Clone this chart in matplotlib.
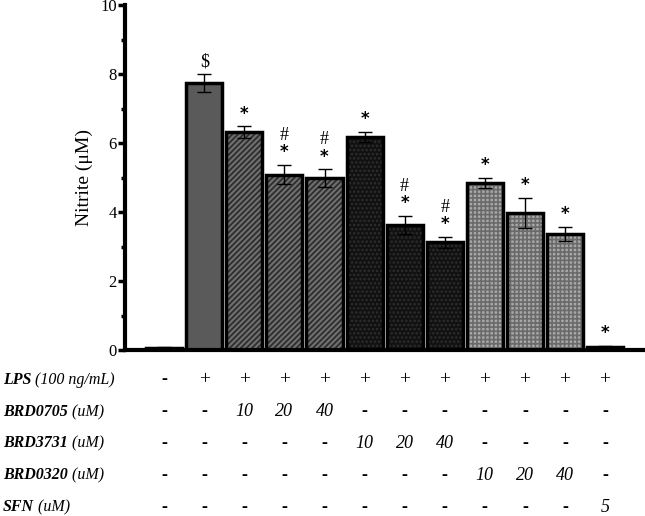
import matplotlib
matplotlib.use("Agg")
import matplotlib.pyplot as plt
import numpy as np

plt.rcParams['font.family'] = ['Liberation Serif', 'DejaVu Serif']
plt.rcParams['hatch.linewidth'] = 1.2

# ---- data ----
values = [0.07, 7.73, 6.31, 5.08, 4.98, 6.18, 3.63, 3.12, 4.84, 3.98, 3.37, 0.10]
errors = [0.02, 0.26, 0.17, 0.28, 0.26, 0.15, 0.26, 0.16, 0.15, 0.43, 0.20, 0.03]
marks = ['', '$', '*', '#*', '#*', '*', '#*', '#*', '*', '*', '*', '*']
row_labels_bold = ['LPS', 'BRD0705', 'BRD3731', 'BRD0320', 'SFN']
row_labels_unit = [' (100 ng/mL)', ' (uM)', ' (uM)', ' (uM)', ' (uM)']
table = [
    ['-', '+', '+', '+', '+', '+', '+', '+', '+', '+', '+', '+'],
    ['-', '-', '10', '20', '40', '-', '-', '-', '-', '-', '-', '-'],
    ['-', '-', '-', '-', '-', '10', '20', '40', '-', '-', '-', '-'],
    ['-', '-', '-', '-', '-', '-', '-', '-', '10', '20', '40', '-'],
    ['-', '-', '-', '-', '-', '-', '-', '-', '-', '-', '-', '5'],
]
faces = ['black', '#5a5a5a', '#6e6e6e', '#6e6e6e', '#6e6e6e', '#111111', '#111111', '#111111',
         '#a8a8a8', '#a8a8a8', '#a8a8a8', 'black']
hatches = [None, None, '//////', '//////', '//////', '....', '....', '....',
           '++++', '++++', '++++', None]
hatch_cols = ['black', '#5a5a5a', '#2a2a2a', '#2a2a2a', '#2a2a2a', '#2e2e2e', '#2e2e2e', '#2e2e2e',
              '#6a6a6a', '#6a6a6a', '#6a6a6a', 'black']

fig = plt.figure(figsize=(6.45, 5.16), dpi=100)
ax = fig.add_axes([125/645, 1-350/516, 1-125/645, 345/516])

x = np.arange(1, len(values)+1)
w = 0.9
for xi, v, fc, h, hc in zip(x, values, faces, hatches, hatch_cols):
    ax.bar(xi, v, width=w, color=fc, hatch=h, edgecolor=hc, linewidth=0, zorder=2)
    ax.bar(xi, v, width=w, fill=False, edgecolor='black', linewidth=2.5, zorder=3)
ax.errorbar(x, values, yerr=errors, fmt='none', ecolor='black', elinewidth=1.0,
            capsize=5, capthick=1.0, zorder=4)

for xi, v, e, m in zip(x, values, errors, marks):
    top = v + e
    if m == '$':
        ax.annotate('$', (xi, top), xytext=(0, 5.8), textcoords='offset points',
                    ha='center', va='baseline', fontsize=13)
    elif m:
        ax.annotate('*', (xi, top), xytext=(0, 5.5), textcoords='offset points',
                    ha='center', va='baseline', fontsize=12, fontweight='bold',
                    family='DejaVu Sans')
        if '#' in m:
            ax.annotate('#', (xi, top), xytext=(0, 18), textcoords='offset points',
                        ha='center', va='baseline', fontsize=13)

ax.set_xlim(0.02, 13.0)
ax.set_ylim(0, 10)
ax.set_yticks([0, 2, 4, 6, 8, 10])
ax.set_yticks([1, 3, 5, 7, 9], minor=True)
ax.set_xticks([])
for s in ['top', 'right']:
    ax.spines[s].set_visible(False)
for s in ['left', 'bottom']:
    ax.spines[s].set_linewidth(3)
ax.tick_params(axis='y', which='major', width=2.5, length=5, labelsize=12, pad=1)
ax.tick_params(axis='y', which='minor', width=2.5, length=3)
ax.set_ylabel('Nitrite (μM)', fontsize=14, labelpad=5)

row_y = [380, 412, 443, 475, 507]
for ry, lb, lu, row in zip(row_y, row_labels_bold, row_labels_unit, table):
    yf = 1 - ry/516
    t = fig.text(3/645, yf, lb, fontsize=11.5, fontweight='bold', fontstyle='italic',
                 va='center', ha='left')
    ax.annotate(lu, xy=(1, 0.5), xycoords=t, va='center', ha='left',
                fontsize=11.5, fontstyle='italic', annotation_clip=False)
    for xi, val in zip(x, row):
        xd = ax.transData.transform((xi, 0))[0]
        xf = xd / fig.bbox.width
        if val == '-':
            fig.text(xf, yf, '-', fontsize=13, fontweight='bold', ha='center', va='center')
        elif val == '+':
            fig.text(xf, yf, '+', fontsize=14, ha='center', va='center')
        else:
            fig.text(xf, yf, val, fontsize=13, fontstyle='italic', ha='center', va='center')

fig.savefig('out.png', dpi=100)
